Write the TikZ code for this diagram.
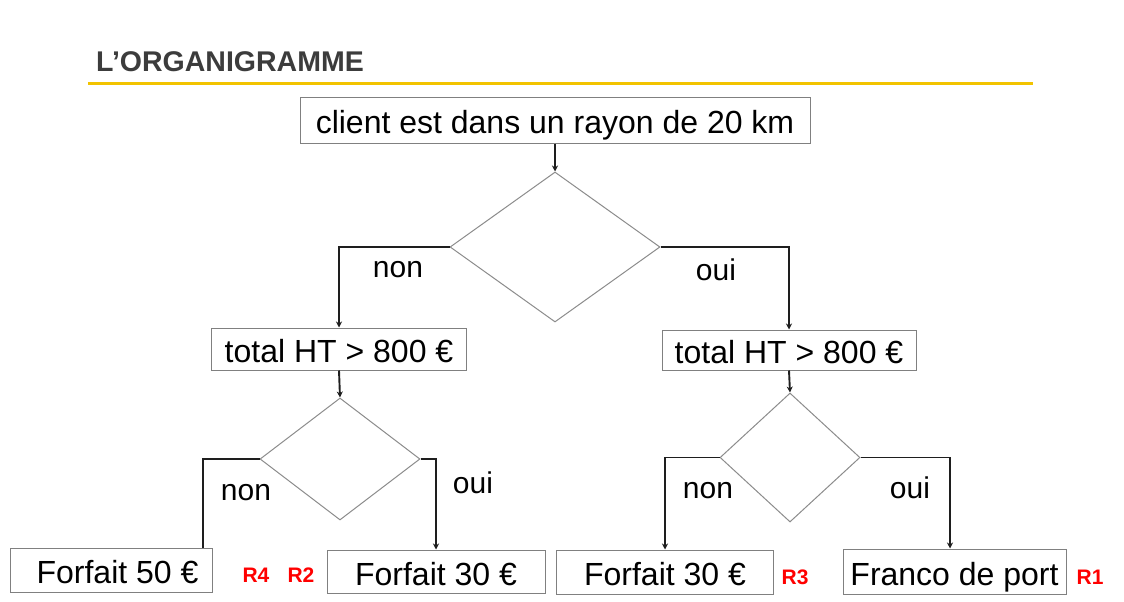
\documentclass[tikz,border=0pt]{standalone}
\usepackage{fontspec}
\setmainfont{Liberation Sans}
\usetikzlibrary{shapes.geometric,arrows.meta}
\definecolor{boxgray}{HTML}{808080}
\definecolor{diagray}{HTML}{8C8C8C}
\definecolor{connc}{HTML}{1E1E1E}
\definecolor{titlec}{HTML}{3C3C3C}
\definecolor{rred}{HTML}{FF0000}
\definecolor{goldline}{HTML}{F2C300}
\begin{document}
\begin{tikzpicture}[x=1pt,y=-1pt,
  box/.style={draw=boxgray,line width=1pt,inner sep=0pt,font=\fontsize{32}{38}\selectfont,text height=29pt,text depth=2pt},
  dia/.style={draw=diagray,line width=1pt,diamond,inner sep=0pt},
  conn/.style={draw=connc,line width=1.9pt},
  arr/.style={conn,-{Stealth[length=6pt,width=6pt]}},
  lbl/.style={font=\fontsize{30}{36}\selectfont,inner sep=0pt},
  rl/.style={font=\bfseries\fontsize{21}{25}\selectfont,text=rred,inner sep=0pt}]
\useasboundingbox (0,0) rectangle (1124,602);
\fill[white] (0,0) rectangle (1124,602);
% title
\node[anchor=west,inner sep=0pt,font=\bfseries\fontsize{28.5}{32}\selectfont,text=titlec] (title) at (96,62) {L’ORGANIGRAMME};
\draw[goldline,line width=3pt] (88,83) coordinate (gl1) -- (1033,83) coordinate (gl2);
% boxes
\node[box,minimum width=510pt,minimum height=46pt] (top) at (555,120) {client est dans un rayon de 20 km};
\node[box,minimum width=255pt,minimum height=42pt] (ml) at (339,349) {total HT > 800 €};
\node[box,minimum width=254pt,minimum height=40pt] (mr) at (789,350) {total HT > 800 €};
\node[box,minimum width=202pt,minimum height=44pt] (b1) at (111,570) {\hspace*{13pt}Forfait 50 €};
\node[box,minimum width=218pt,minimum height=43pt] (b2) at (436,571.5) {Forfait 30 €};
\node[box,minimum width=217pt,minimum height=44pt] (b3) at (665,572) {Forfait 30 €};
\node[box,minimum width=223pt,minimum height=45pt] (b4) at (954.5,571.5) {Franco de port};
% diamonds
\node[dia,minimum width=210pt,minimum height=150pt] (d0) at (555,247) {};
\node[dia,minimum width=160pt,minimum height=122pt] (d1) at (340,459) {};
\node[dia,minimum width=140pt,minimum height=129pt] (d2) at (790,457.5) {};
% connectors
\draw[arr] (top.south) -- (d0.north);
\draw[arr] (d0.west) -| (ml.north);
\draw[arr] (d0.east) -| (mr.north);
\draw[arr] (ml.south) -- (d1.north);
\draw[arr] (mr.south) -- (d2.north);
\draw[conn] (d1.west) -| ([xshift=92pt]b1.north);
\draw[arr] (d1.east) -| (b2.north);
\draw[arr] (d2.west) -| (b3.north);
\draw[arr] (d2.east) -| ([xshift=-4.5pt]b4.north);
% labels
\node[lbl] (n0) at (398,270) {non};
\node[lbl] (o0) at (716,270) {oui};
\node[lbl] (n1) at (246,493) {non};
\node[lbl] (o1) at (473,483) {oui};
\node[lbl] (n2) at (708,491) {non};
\node[lbl] (o2) at (910,488) {oui};
\node[rl] (r4) at (256,575) {R4};
\node[rl] (r2) at (301,575) {R2};
\node[rl] (r3) at (795,577) {R3};
\node[rl] (r1) at (1090,577) {R1};
\end{tikzpicture}
\end{document}
